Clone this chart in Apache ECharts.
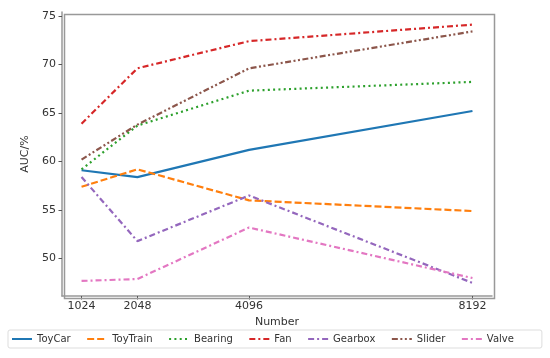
<!DOCTYPE html>
<html>
<head>
<meta charset="utf-8">
<script src="https://cdn.jsdelivr.net/npm/echarts@6/dist/echarts.min.js"></script>
<style>html,body{margin:0;padding:0;background:#fff}#c{width:550px;height:358px}</style>
</head>
<body>
<div id="c"></div>
<script>
const xValues = [1024, 2048, 4096, 8192];
const xTickLabels = ['1024', '2048', '4096', '8192'];
const yTicks = [50, 55, 60, 65, 70, 75];
const seriesNames = ['ToyCar', 'ToyTrain', 'Bearing', 'Fan', 'Gearbox', 'Slider', 'Valve'];
const toyCar   = [59.1, 58.4, 61.2, 65.2];
const toyTrain = [57.4, 59.2, 56.0, 54.9];
const bearing  = [59.2, 63.7, 67.3, 68.2];
const fan      = [63.9, 69.6, 72.4, 74.1];
const gearbox  = [58.4, 51.8, 56.5, 47.5];
const slider   = [60.2, 63.8, 69.6, 73.4];
const valve    = [47.7, 47.9, 53.2, 48.0];

const allData = [toyCar, toyTrain, bearing, fan, gearbox, slider, valve];
const colors = ['#1f77b4', '#ff7f0e', '#2ca02c', '#d62728', '#9467bd', '#8c564b', '#e377c2'];
const dashes = ['solid', [7, 3], [2, 3.3], [6, 3, 2, 3], [6, 3, 2, 3], [6, 2.5, 2, 2.5, 2, 2.5], [6, 3, 2, 3]];

const chart = echarts.init(document.getElementById('c'), null, {renderer: 'canvas'});
const font = 'DejaVu Sans';
chart.setOption({
  animation: false,
  backgroundColor: '#fff',
  grid: {left: 62, right: 58, top: 12, bottom: 62, containLabel: false},
  xAxis: {
    type: 'value',
    min: 665.6, max: 8550.4,
    name: 'Number', nameLocation: 'middle', nameGap: 17,
    nameTextStyle: {fontFamily: font, fontSize: 11, color: '#333'},
    axisLine: {show: true, lineStyle: {color: '#999', width: 1.5}},
    axisTick: {show: true, customValues: xValues, length: 3.5, lineStyle: {color: '#555'}},
    axisLabel: {customValues: xValues, fontFamily: font, fontSize: 11, color: '#333', margin: 5,
      formatter: v => { const i = xValues.indexOf(v); return i >= 0 ? xTickLabels[i] : ''; }},
    splitLine: {show: false}
  },
  yAxis: {
    type: 'value',
    min: 46.15, max: 75.4,
    name: 'AUC/%', nameLocation: 'middle', nameGap: 26,
    nameTextStyle: {fontFamily: font, fontSize: 11, color: '#333'},
    axisLine: {show: true, lineStyle: {color: '#999', width: 1.5}},
    axisTick: {show: true, customValues: yTicks, length: 3.5, lineStyle: {color: '#555'}},
    axisLabel: {customValues: yTicks, fontFamily: font, fontSize: 11, color: '#333', margin: 6},
    splitLine: {show: false}
  },
  legend: {
    bottom: 10, left: 8, width: 545,
    padding: [4, 28, 4, 3],
    itemWidth: 20, itemHeight: 10, itemGap: 15.5,
    itemStyle: {opacity: 0},
    lineStyle: {width: 2},
    borderColor: '#ddd', borderWidth: 1, borderRadius: 2,
    textStyle: {fontFamily: font, fontSize: 10, color: '#333'},
    data: seriesNames
  },
  graphic: [{
    type: 'rect', left: 62, top: 12, shape: {width: 430, height: 284}, silent: true,
    style: {fill: 'none', stroke: '#999', lineWidth: 1.5}, z: 1
  }],
  series: seriesNames.map((n, i) => ({
    name: n, type: 'line',
    data: xValues.map((x, j) => [x, allData[i][j]]),
    showSymbol: false, symbol: 'none',
    color: colors[i],
    lineStyle: {color: colors[i], width: 2.2, type: dashes[i]},
    itemStyle: {color: colors[i]}
  }))
});
</script>
</body>
</html>
